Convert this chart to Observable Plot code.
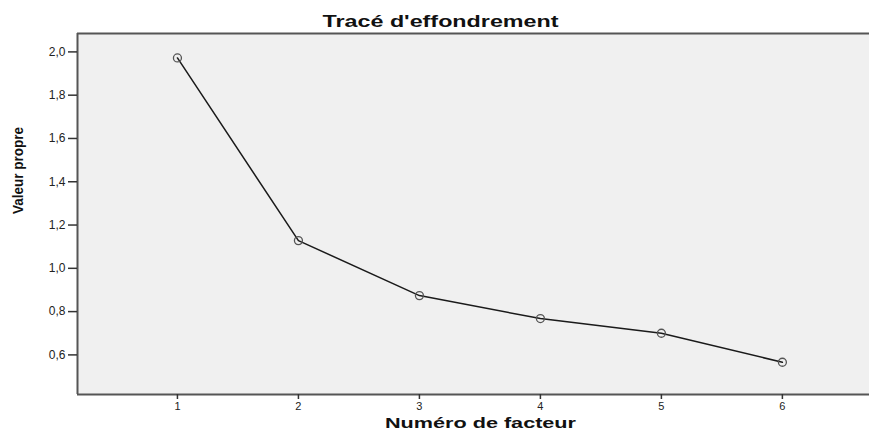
<!DOCTYPE html>
<html>
<head>
<meta charset="utf-8">
<script src="https://cdn.jsdelivr.net/npm/d3@7"></script>
<script src="https://cdn.jsdelivr.net/npm/@observablehq/plot@0.6"></script>
<style>
  html, body { margin: 0; padding: 0; background: #fff; }
  #chart svg { display: block; }
</style>
</head>
<body>
<div id="chart"></div>
<script>
// ---- data ----
const factors = [1, 2, 3, 4, 5, 6];
const eigenvalues = [1.972, 1.128, 0.874, 0.768, 0.700, 0.566];
const yTicks = [0.6, 0.8, 1.0, 1.2, 1.4, 1.6, 1.8, 2.0];
const xDomain = [0.174, 6.72];
const yDomain = [0.417, 2.085];
const titleText = "Tracé d'effondrement";
const xLabelText = "Numéro de facteur";
const yLabelText = "Valeur propre";

const data = factors.map((f, i) => ({factor: f, value: eigenvalues[i]}));
const fmt = d => d.toFixed(1).replace(".", ",");

const chart = Plot.plot({
  width: 869,
  height: 432,
  marginLeft: 77,
  marginRight: 0,
  marginTop: 33,
  marginBottom: 38,
  style: {fontFamily: "'Liberation Sans', Arial, sans-serif", background: "#fff", overflow: "visible"},
  x: {domain: xDomain, label: null},
  y: {domain: yDomain, label: null},
  marks: [
    Plot.frame({fill: "#f0f0f0", stroke: null}),
    Plot.ruleX([xDomain[0]], {stroke: "#555", strokeWidth: 2}),
    Plot.ruleY(yDomain, {stroke: "#555", strokeWidth: 2}),
    Plot.axisY({ticks: yTicks, tickFormat: fmt, tickSize: 9, tickPadding: 3, fontSize: 12, stroke: "#333", color: "#222", strokeWidth: 1.5}),
    Plot.axisX({ticks: factors, tickFormat: d => String(d), tickSize: 5, tickPadding: 3, fontSize: 11, stroke: "#333", color: "#222", strokeWidth: 1.5}),
    Plot.line(data, {x: "factor", y: "value", stroke: "#1a1a1a", strokeWidth: 1.5}),
    Plot.dot(data, {x: "factor", y: "value", r: 4, stroke: "#555", fill: "none", strokeWidth: 1.3}),
    Plot.text([titleText], {frameAnchor: "top", lineAnchor: "middle", dy: -12, dx: -33, fontSize: 16, fontWeight: "bold", fill: "#111", className: "ttl"}),
    Plot.text([xLabelText], {frameAnchor: "bottom", lineAnchor: "middle", dy: 29, dx: 7, fontSize: 14, fontWeight: "bold", fill: "#111", className: "xlab"}),
    Plot.text([yLabelText], {frameAnchor: "left", lineAnchor: "middle", dx: -59, rotate: -90, fontSize: 15, fontWeight: "bold", fill: "#111", fontFamily: "'Liberation Sans Narrow', 'Liberation Sans', sans-serif", className: "ylab"})
  ]
});
document.getElementById("chart").appendChild(chart);
// stretch labels horizontally to match the reference's wide rendering
d3.select(chart).select(".ttl text").attr("textLength", 236).attr("lengthAdjust", "spacingAndGlyphs");
d3.select(chart).select(".xlab text").attr("textLength", 191).attr("lengthAdjust", "spacingAndGlyphs");
d3.select(chart).select(".ylab text").attr("textLength", 87).attr("lengthAdjust", "spacingAndGlyphs");
</script>
</body>
</html>
